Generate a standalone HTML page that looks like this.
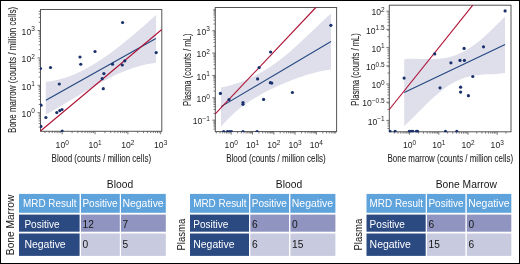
<!DOCTYPE html>
<html><head><meta charset="utf-8"><title>MRD comparison</title>
<style>html,body{margin:0;padding:0;background:#fff;width:520px;height:264px;overflow:hidden;font-family:"Liberation Sans",sans-serif}svg{display:block;will-change:transform}</style>
</head><body>
<svg width="520" height="264" viewBox="0 0 520 264" font-family='"Liberation Sans", sans-serif'><rect width="520" height="264" fill="#fff"/><rect x="40.5" y="9.5" width="121.3" height="121.8" fill="none" stroke="#555" stroke-width="1"/><path d="M62.2 131.3v3M95.03 131.3v3M127.86 131.3v3M160.69 131.3v3M45.03 131.3v1.8M49.14 131.3v1.8M52.32 131.3v1.8M54.92 131.3v1.8M57.11 131.3v1.8M59.02 131.3v1.8M60.7 131.3v1.8M72.08 131.3v1.8M77.86 131.3v1.8M81.97 131.3v1.8M85.15 131.3v1.8M87.75 131.3v1.8M89.94 131.3v1.8M91.85 131.3v1.8M93.53 131.3v1.8M104.91 131.3v1.8M110.69 131.3v1.8M114.8 131.3v1.8M117.98 131.3v1.8M120.58 131.3v1.8M122.77 131.3v1.8M124.68 131.3v1.8M126.36 131.3v1.8M137.74 131.3v1.8M143.52 131.3v1.8M147.63 131.3v1.8M150.81 131.3v1.8M153.41 131.3v1.8M155.6 131.3v1.8M157.51 131.3v1.8M159.19 131.3v1.8M40.5 112.7h-3M40.5 85.3h-3M40.5 57.9h-3M40.5 30.5h-3M40.5 127.03h-1.8M40.5 123.6h-1.8M40.5 120.95h-1.8M40.5 118.78h-1.8M40.5 116.94h-1.8M40.5 115.36h-1.8M40.5 113.95h-1.8M40.5 104.45h-1.8M40.5 99.63h-1.8M40.5 96.2h-1.8M40.5 93.55h-1.8M40.5 91.38h-1.8M40.5 89.54h-1.8M40.5 87.96h-1.8M40.5 86.55h-1.8M40.5 77.05h-1.8M40.5 72.23h-1.8M40.5 68.8h-1.8M40.5 66.15h-1.8M40.5 63.98h-1.8M40.5 62.14h-1.8M40.5 60.56h-1.8M40.5 59.15h-1.8M40.5 49.65h-1.8M40.5 44.83h-1.8M40.5 41.4h-1.8M40.5 38.75h-1.8M40.5 36.58h-1.8M40.5 34.74h-1.8M40.5 33.16h-1.8M40.5 31.75h-1.8M40.5 22.25h-1.8M40.5 17.43h-1.8M40.5 14h-1.8M40.5 11.35h-1.8" stroke="#555" stroke-width="0.8" fill="none"/><clipPath id="c1"><rect x="40" y="9" width="122.3" height="122.8"/></clipPath><g clip-path="url(#c1)"><polygon points="45.8,81.67 50.6,81.16 55.39,80.35 60.19,79.23 64.98,77.83 69.78,76.17 74.57,74.24 79.37,72.07 84.17,69.67 88.96,67.05 93.76,64.22 98.55,61.21 103.35,58.02 108.14,54.66 112.94,51.16 117.73,47.51 122.53,43.74 127.33,39.86 132.12,35.89 136.92,31.82 141.71,27.69 146.51,23.5 151.3,19.27 156.1,15 156.1,62.83 151.3,63.45 146.51,64.33 141.71,65.44 136.92,66.79 132.12,68.34 127.33,70.09 122.53,72.02 117.73,74.11 112.94,76.35 108.14,78.72 103.35,81.21 98.55,83.81 93.76,86.49 88.96,89.24 84.17,92.05 79.37,94.89 74.57,97.77 69.78,100.65 64.98,103.53 60.19,106.38 55.39,109.2 50.6,111.97 45.8,114.67" fill="#dedfeb"/><polyline points="45.9,100.2 155.9,38.6" fill="none" stroke="#24467f" stroke-width="1.1"/><polyline points="40.5,131 161.8,29.5" fill="none" stroke="#ae1235" stroke-width="1.1"/><circle cx="95" cy="51.5" r="1.6" fill="#1b316c"/><circle cx="80" cy="57" r="1.6" fill="#1b316c"/><circle cx="80.75" cy="64.25" r="1.6" fill="#1b316c"/><circle cx="50.5" cy="67.5" r="1.6" fill="#1b316c"/><circle cx="40.5" cy="68.5" r="1.6" fill="#1b316c"/><circle cx="122.6" cy="22.5" r="1.6" fill="#1b316c"/><circle cx="156.2" cy="52.6" r="1.6" fill="#1b316c"/><circle cx="112.5" cy="64.2" r="1.6" fill="#1b316c"/><circle cx="124.8" cy="60.8" r="1.6" fill="#1b316c"/><circle cx="122.3" cy="65" r="1.6" fill="#1b316c"/><circle cx="59.3" cy="84" r="1.6" fill="#1b316c"/><circle cx="41" cy="105.2" r="1.6" fill="#1b316c"/><circle cx="45.9" cy="117.5" r="1.6" fill="#1b316c"/><circle cx="40.9" cy="126.4" r="1.6" fill="#1b316c"/><circle cx="56.8" cy="112.6" r="1.6" fill="#1b316c"/><circle cx="59.8" cy="110.6" r="1.6" fill="#1b316c"/><circle cx="62" cy="109.5" r="1.6" fill="#1b316c"/><circle cx="62.2" cy="131.2" r="1.6" fill="#1b316c"/><circle cx="103.9" cy="73.6" r="1.6" fill="#1b316c"/><circle cx="102.2" cy="78.7" r="1.6" fill="#1b316c"/><circle cx="103.3" cy="88.7" r="1.6" fill="#1b316c"/></g><text x="55.61" y="148.4" font-size="8.6" letter-spacing="0" fill="#1e1e1e">10<tspan font-size="6.5" dy="-3.5" letter-spacing="0">0</tspan></text><text x="88.44" y="148.4" font-size="8.6" letter-spacing="0" fill="#1e1e1e">10<tspan font-size="6.5" dy="-3.5" letter-spacing="0">1</tspan></text><text x="121.27" y="148.4" font-size="8.6" letter-spacing="0" fill="#1e1e1e">10<tspan font-size="6.5" dy="-3.5" letter-spacing="0">2</tspan></text><text x="154.1" y="148.4" font-size="8.6" letter-spacing="0" fill="#1e1e1e">10<tspan font-size="6.5" dy="-3.5" letter-spacing="0">3</tspan></text><text x="21.62" y="116.9" font-size="8.6" letter-spacing="0" fill="#1e1e1e">10<tspan font-size="6.5" dy="-3.5" letter-spacing="0">0</tspan></text><text x="21.62" y="89.5" font-size="8.6" letter-spacing="0" fill="#1e1e1e">10<tspan font-size="6.5" dy="-3.5" letter-spacing="0">1</tspan></text><text x="21.62" y="62.1" font-size="8.6" letter-spacing="0" fill="#1e1e1e">10<tspan font-size="6.5" dy="-3.5" letter-spacing="0">2</tspan></text><text x="21.62" y="34.7" font-size="8.6" letter-spacing="0" fill="#1e1e1e">10<tspan font-size="6.5" dy="-3.5" letter-spacing="0">3</tspan></text><text x="101.35" y="161.6" font-size="10.6" text-anchor="middle" textLength="99.5" lengthAdjust="spacingAndGlyphs" fill="#1e1e1e" stroke="#1e1e1e" stroke-width="0.06">Blood (counts / million cells)</text><text transform="translate(15.6 69.9) rotate(-90)" font-size="10.6" text-anchor="middle" textLength="126" lengthAdjust="spacingAndGlyphs" fill="#1e1e1e" stroke="#1e1e1e" stroke-width="0.06">Bone marrow (counts / million cells)</text><rect x="215.3" y="7.5" width="121.3" height="124.1" fill="none" stroke="#555" stroke-width="1"/><path d="M231.2 131.6v3M252.5 131.6v3M273.8 131.6v3M295.1 131.6v3M316.4 131.6v3M216.31 131.6v1.8M220.06 131.6v1.8M222.72 131.6v1.8M224.79 131.6v1.8M226.47 131.6v1.8M227.9 131.6v1.8M229.14 131.6v1.8M230.23 131.6v1.8M237.61 131.6v1.8M241.36 131.6v1.8M244.02 131.6v1.8M246.09 131.6v1.8M247.77 131.6v1.8M249.2 131.6v1.8M250.44 131.6v1.8M251.53 131.6v1.8M258.91 131.6v1.8M262.66 131.6v1.8M265.32 131.6v1.8M267.39 131.6v1.8M269.07 131.6v1.8M270.5 131.6v1.8M271.74 131.6v1.8M272.83 131.6v1.8M280.21 131.6v1.8M283.96 131.6v1.8M286.62 131.6v1.8M288.69 131.6v1.8M290.37 131.6v1.8M291.8 131.6v1.8M293.04 131.6v1.8M294.13 131.6v1.8M301.51 131.6v1.8M305.26 131.6v1.8M307.92 131.6v1.8M309.99 131.6v1.8M311.67 131.6v1.8M313.1 131.6v1.8M314.34 131.6v1.8M315.43 131.6v1.8M322.81 131.6v1.8M326.56 131.6v1.8M329.22 131.6v1.8M331.29 131.6v1.8M332.97 131.6v1.8M334.4 131.6v1.8M335.64 131.6v1.8M215.3 120.16h-3M215.3 97.8h-3M215.3 75.44h-3M215.3 53.08h-3M215.3 30.72h-3M215.3 129.06h-1.8M215.3 126.89h-1.8M215.3 125.12h-1.8M215.3 123.62h-1.8M215.3 122.33h-1.8M215.3 121.18h-1.8M215.3 113.43h-1.8M215.3 109.49h-1.8M215.3 106.7h-1.8M215.3 104.53h-1.8M215.3 102.76h-1.8M215.3 101.26h-1.8M215.3 99.97h-1.8M215.3 98.82h-1.8M215.3 91.07h-1.8M215.3 87.13h-1.8M215.3 84.34h-1.8M215.3 82.17h-1.8M215.3 80.4h-1.8M215.3 78.9h-1.8M215.3 77.61h-1.8M215.3 76.46h-1.8M215.3 68.71h-1.8M215.3 64.77h-1.8M215.3 61.98h-1.8M215.3 59.81h-1.8M215.3 58.04h-1.8M215.3 56.54h-1.8M215.3 55.25h-1.8M215.3 54.1h-1.8M215.3 46.35h-1.8M215.3 42.41h-1.8M215.3 39.62h-1.8M215.3 37.45h-1.8M215.3 35.68h-1.8M215.3 34.18h-1.8M215.3 32.89h-1.8M215.3 31.74h-1.8M215.3 23.99h-1.8M215.3 20.05h-1.8M215.3 17.26h-1.8M215.3 15.09h-1.8M215.3 13.32h-1.8M215.3 11.82h-1.8M215.3 10.53h-1.8M215.3 9.38h-1.8" stroke="#555" stroke-width="0.8" fill="none"/><clipPath id="c2"><rect x="214.8" y="7" width="122.3" height="125.1"/></clipPath><g clip-path="url(#c2)"><polygon points="221,87.62 225.78,86.48 230.57,85.21 235.35,83.79 240.13,82.18 244.91,80.37 249.7,78.34 254.48,76.08 259.26,73.56 264.04,70.81 268.83,67.8 273.61,64.54 278.39,61.05 283.17,57.33 287.96,53.41 292.74,49.29 297.52,45.01 302.3,40.6 307.09,36.08 311.87,31.5 316.65,26.9 321.43,22.32 326.22,17.81 331,13.44 331,69.62 326.22,70.21 321.43,71.06 316.65,72.14 311.87,73.4 307.09,74.83 302.3,76.39 297.52,78.08 292.74,79.87 287.96,81.76 283.17,83.74 278.39,85.83 273.61,88.02 268.83,90.33 264.04,92.78 259.26,95.39 254.48,98.19 249.7,101.21 244.91,104.5 240.13,108.09 235.35,112.04 230.57,116.4 225.78,121.23 221,126.59" fill="#dedfeb"/><polyline points="221.1,106.6 331,41.5" fill="none" stroke="#24467f" stroke-width="1.1"/><polyline points="215.3,113.9 315.8,7.5" fill="none" stroke="#ae1235" stroke-width="1.1"/><circle cx="220.4" cy="93.4" r="1.6" fill="#1b316c"/><circle cx="229" cy="99.7" r="1.6" fill="#1b316c"/><circle cx="243" cy="102.6" r="1.6" fill="#1b316c"/><circle cx="243" cy="104.3" r="1.6" fill="#1b316c"/><circle cx="257.6" cy="78.9" r="1.6" fill="#1b316c"/><circle cx="259.1" cy="67.6" r="1.6" fill="#1b316c"/><circle cx="263.6" cy="99.4" r="1.6" fill="#1b316c"/><circle cx="270.6" cy="52" r="1.6" fill="#1b316c"/><circle cx="270.3" cy="82.7" r="1.6" fill="#1b316c"/><circle cx="271.8" cy="83.1" r="1.6" fill="#1b316c"/><circle cx="292.4" cy="92.5" r="1.6" fill="#1b316c"/><circle cx="330.9" cy="25.3" r="1.6" fill="#1b316c"/><circle cx="223.7" cy="131.5" r="1.6" fill="#1b316c"/><circle cx="227.5" cy="131.5" r="1.6" fill="#1b316c"/><circle cx="229.5" cy="131.5" r="1.6" fill="#1b316c"/><circle cx="231.5" cy="131.5" r="1.6" fill="#1b316c"/><circle cx="243" cy="131.5" r="1.6" fill="#1b316c"/><circle cx="257" cy="131.5" r="1.6" fill="#1b316c"/></g><text x="224.61" y="148.4" font-size="8.6" letter-spacing="0" fill="#1e1e1e">10<tspan font-size="6.5" dy="-3.5" letter-spacing="0">0</tspan></text><text x="245.91" y="148.4" font-size="8.6" letter-spacing="0" fill="#1e1e1e">10<tspan font-size="6.5" dy="-3.5" letter-spacing="0">1</tspan></text><text x="267.21" y="148.4" font-size="8.6" letter-spacing="0" fill="#1e1e1e">10<tspan font-size="6.5" dy="-3.5" letter-spacing="0">2</tspan></text><text x="288.51" y="148.4" font-size="8.6" letter-spacing="0" fill="#1e1e1e">10<tspan font-size="6.5" dy="-3.5" letter-spacing="0">3</tspan></text><text x="309.81" y="148.4" font-size="8.6" letter-spacing="0" fill="#1e1e1e">10<tspan font-size="6.5" dy="-3.5" letter-spacing="0">4</tspan></text><text x="192.83" y="124.36" font-size="8.6" letter-spacing="0" fill="#1e1e1e">10<tspan font-size="6.5" dy="-3.5" letter-spacing="0">−1</tspan></text><text x="196.62" y="102" font-size="8.6" letter-spacing="0" fill="#1e1e1e">10<tspan font-size="6.5" dy="-3.5" letter-spacing="0">0</tspan></text><text x="196.62" y="79.64" font-size="8.6" letter-spacing="0" fill="#1e1e1e">10<tspan font-size="6.5" dy="-3.5" letter-spacing="0">1</tspan></text><text x="196.62" y="57.28" font-size="8.6" letter-spacing="0" fill="#1e1e1e">10<tspan font-size="6.5" dy="-3.5" letter-spacing="0">2</tspan></text><text x="196.62" y="34.92" font-size="8.6" letter-spacing="0" fill="#1e1e1e">10<tspan font-size="6.5" dy="-3.5" letter-spacing="0">3</tspan></text><text x="275.95" y="161.6" font-size="10.6" text-anchor="middle" textLength="99.5" lengthAdjust="spacingAndGlyphs" fill="#1e1e1e" stroke="#1e1e1e" stroke-width="0.06">Blood (counts / million cells)</text><text transform="translate(190.5 69.7) rotate(-90)" font-size="10.6" text-anchor="middle" textLength="72.6" lengthAdjust="spacingAndGlyphs" fill="#1e1e1e" stroke="#1e1e1e" stroke-width="0.06">Plasma (counts / mL)</text><rect x="389.3" y="5.2" width="121.7" height="126.6" fill="none" stroke="#555" stroke-width="1"/><path d="M409.6 131.8v3M438.8 131.8v3M468 131.8v3M497.2 131.8v3M394.33 131.8v1.8M397.98 131.8v1.8M400.81 131.8v1.8M403.12 131.8v1.8M405.08 131.8v1.8M406.77 131.8v1.8M408.26 131.8v1.8M418.39 131.8v1.8M423.53 131.8v1.8M427.18 131.8v1.8M430.01 131.8v1.8M432.32 131.8v1.8M434.28 131.8v1.8M435.97 131.8v1.8M437.46 131.8v1.8M447.59 131.8v1.8M452.73 131.8v1.8M456.38 131.8v1.8M459.21 131.8v1.8M461.52 131.8v1.8M463.48 131.8v1.8M465.17 131.8v1.8M466.66 131.8v1.8M476.79 131.8v1.8M481.93 131.8v1.8M485.58 131.8v1.8M488.41 131.8v1.8M490.72 131.8v1.8M492.68 131.8v1.8M494.37 131.8v1.8M495.86 131.8v1.8M505.99 131.8v1.8M389.3 120.4h-3M389.3 102.2h-3M389.3 84h-3M389.3 65.8h-3M389.3 47.6h-3M389.3 29.4h-3M389.3 11.2h-3M389.3 128.48h-1.8M389.3 126.04h-1.8M389.3 123.93h-1.8M389.3 122.07h-1.8M389.3 109.44h-1.8M389.3 103.03h-1.8M389.3 98.49h-1.8M389.3 94.96h-1.8M389.3 92.08h-1.8M389.3 89.64h-1.8M389.3 87.53h-1.8M389.3 85.67h-1.8M389.3 73.04h-1.8M389.3 66.63h-1.8M389.3 62.09h-1.8M389.3 58.56h-1.8M389.3 55.68h-1.8M389.3 53.24h-1.8M389.3 51.13h-1.8M389.3 49.27h-1.8M389.3 36.64h-1.8M389.3 30.23h-1.8M389.3 25.69h-1.8M389.3 22.16h-1.8M389.3 19.28h-1.8M389.3 16.84h-1.8M389.3 14.73h-1.8M389.3 12.87h-1.8" stroke="#555" stroke-width="0.8" fill="none"/><clipPath id="c3"><rect x="388.8" y="4.7" width="122.7" height="127.6"/></clipPath><g clip-path="url(#c3)"><polygon points="404.2,59.15 408.58,58.75 412.97,58.64 417.35,58.72 421.73,58.9 426.11,59.07 430.5,59.16 434.88,59.1 439.26,58.83 443.64,58.29 448.03,57.45 452.41,56.27 456.79,54.72 461.17,52.8 465.56,50.5 469.94,47.82 474.32,44.78 478.7,41.4 483.09,37.72 487.47,33.77 491.85,29.62 496.23,25.32 500.62,20.94 505,16.57 505,72.95 500.62,73.56 496.23,73.91 491.85,74.13 487.47,74.31 483.09,74.55 478.7,74.93 474.32,75.53 469.94,76.4 465.56,77.58 461.17,79.12 456.79,81.03 452.41,83.34 448.03,86.03 443.64,89.1 439.26,92.52 434.88,96.27 430.5,100.28 426.11,104.51 421.73,108.89 417.35,113.32 412.97,117.73 408.58,122 404.2,126.02" fill="#dedfeb"/><polyline points="404.2,92.6 505.1,44.4" fill="none" stroke="#24467f" stroke-width="1.1"/><polyline points="389.3,109.5 472.8,5.2" fill="none" stroke="#ae1235" stroke-width="1.1"/><circle cx="505.1" cy="10.9" r="1.6" fill="#1b316c"/><circle cx="464.1" cy="48.4" r="1.6" fill="#1b316c"/><circle cx="483.5" cy="46.8" r="1.6" fill="#1b316c"/><circle cx="460" cy="60.4" r="1.6" fill="#1b316c"/><circle cx="464.4" cy="60.4" r="1.6" fill="#1b316c"/><circle cx="434.7" cy="53.9" r="1.6" fill="#1b316c"/><circle cx="450.9" cy="62.8" r="1.6" fill="#1b316c"/><circle cx="472.8" cy="76.5" r="1.6" fill="#1b316c"/><circle cx="440" cy="87.8" r="1.6" fill="#1b316c"/><circle cx="460.6" cy="87.2" r="1.6" fill="#1b316c"/><circle cx="460.6" cy="92.1" r="1.6" fill="#1b316c"/><circle cx="468.4" cy="95.7" r="1.6" fill="#1b316c"/><circle cx="404.1" cy="78.1" r="1.6" fill="#1b316c"/><circle cx="390" cy="131.4" r="1.6" fill="#1b316c"/><circle cx="395.1" cy="131.4" r="1.6" fill="#1b316c"/><circle cx="409.3" cy="131.4" r="1.6" fill="#1b316c"/><circle cx="411.2" cy="131.4" r="1.6" fill="#1b316c"/><circle cx="412.8" cy="131.4" r="1.6" fill="#1b316c"/><circle cx="416.4" cy="131.4" r="1.6" fill="#1b316c"/><circle cx="417.6" cy="131.4" r="1.6" fill="#1b316c"/><circle cx="445.5" cy="131.4" r="1.6" fill="#1b316c"/><circle cx="456.8" cy="131.4" r="1.6" fill="#1b316c"/></g><text x="403.01" y="148.4" font-size="8.6" letter-spacing="0" fill="#1e1e1e">10<tspan font-size="6.5" dy="-3.5" letter-spacing="0">0</tspan></text><text x="432.21" y="148.4" font-size="8.6" letter-spacing="0" fill="#1e1e1e">10<tspan font-size="6.5" dy="-3.5" letter-spacing="0">1</tspan></text><text x="461.41" y="148.4" font-size="8.6" letter-spacing="0" fill="#1e1e1e">10<tspan font-size="6.5" dy="-3.5" letter-spacing="0">2</tspan></text><text x="490.61" y="148.4" font-size="8.6" letter-spacing="0" fill="#1e1e1e">10<tspan font-size="6.5" dy="-3.5" letter-spacing="0">3</tspan></text><text x="367.63" y="124.6" font-size="8.6" letter-spacing="0" fill="#1e1e1e">10<tspan font-size="6.5" dy="-3.5" letter-spacing="0">−1</tspan></text><text x="362.21" y="106.4" font-size="8.6" letter-spacing="0" fill="#1e1e1e">10<tspan font-size="6.5" dy="-3.5" letter-spacing="0">−0.5</tspan></text><text x="371.42" y="88.2" font-size="8.6" letter-spacing="0" fill="#1e1e1e">10<tspan font-size="6.5" dy="-3.5" letter-spacing="0">0</tspan></text><text x="366" y="70" font-size="8.6" letter-spacing="0" fill="#1e1e1e">10<tspan font-size="6.5" dy="-3.5" letter-spacing="0">0.5</tspan></text><text x="371.42" y="51.8" font-size="8.6" letter-spacing="0" fill="#1e1e1e">10<tspan font-size="6.5" dy="-3.5" letter-spacing="0">1</tspan></text><text x="366" y="33.6" font-size="8.6" letter-spacing="0" fill="#1e1e1e">10<tspan font-size="6.5" dy="-3.5" letter-spacing="0">1.5</tspan></text><text x="371.42" y="15.4" font-size="8.6" letter-spacing="0" fill="#1e1e1e">10<tspan font-size="6.5" dy="-3.5" letter-spacing="0">2</tspan></text><text x="450.3" y="161.6" font-size="10.6" text-anchor="middle" textLength="125.5" lengthAdjust="spacingAndGlyphs" fill="#1e1e1e" stroke="#1e1e1e" stroke-width="0.06">Bone marrow (counts / million cells)</text><text transform="translate(359 69.4) rotate(-90)" font-size="10.6" text-anchor="middle" textLength="72.6" lengthAdjust="spacingAndGlyphs" fill="#1e1e1e" stroke="#1e1e1e" stroke-width="0.06">Plasma (counts / mL)</text><text x="120" y="187.7" font-size="10.3" text-anchor="middle" fill="#161616">Blood</text><text transform="translate(13.5 224.9) rotate(-90)" font-size="10.3" text-anchor="middle" textLength="60.5" lengthAdjust="spacingAndGlyphs" fill="#161616">Bone Marrow</text><rect x="19" y="193.9" width="60.6" height="18.9" fill="#5fa3dc"/><rect x="81" y="193.9" width="38.8" height="18.9" fill="#5fa3dc"/><rect x="121" y="193.9" width="44.8" height="18.9" fill="#5fa3dc"/><rect x="19" y="214.6" width="60.6" height="17.1" fill="#2c4a82"/><rect x="81" y="214.6" width="38.8" height="17.1" fill="#8f95c0"/><rect x="121" y="214.6" width="44.8" height="17.1" fill="#8f95c0"/><rect x="19" y="233.5" width="60.6" height="22.4" fill="#2c4a82"/><rect x="81" y="233.5" width="38.8" height="22.4" fill="#c8cadf"/><rect x="121" y="233.5" width="44.8" height="22.4" fill="#c8cadf"/><text x="23" y="206.8" font-size="10.2" fill="#fff" textLength="53.4" lengthAdjust="spacingAndGlyphs">MRD Result</text><text x="82.4" y="206.8" font-size="10.2" fill="#fff" textLength="35.2" lengthAdjust="spacingAndGlyphs">Positive</text><text x="122.4" y="206.8" font-size="10.2" fill="#fff" textLength="41.3" lengthAdjust="spacingAndGlyphs">Negative</text><text x="24.4" y="227.7" font-size="10.2" fill="#fff" textLength="35.2" lengthAdjust="spacingAndGlyphs">Positive</text><text x="82.6" y="227.7" font-size="10.2" fill="#161616">12</text><text x="122.6" y="227.7" font-size="10.2" fill="#161616">7</text><text x="24.4" y="247.6" font-size="10.2" fill="#fff" textLength="41.3" lengthAdjust="spacingAndGlyphs">Negative</text><text x="82.6" y="247.6" font-size="10.2" fill="#161616">0</text><text x="122.6" y="247.6" font-size="10.2" fill="#161616">5</text><text x="289" y="187.7" font-size="10.3" text-anchor="middle" fill="#161616">Blood</text><text transform="translate(184.6 234.7) rotate(-90)" font-size="10.3" text-anchor="middle" textLength="31.8" lengthAdjust="spacingAndGlyphs" fill="#161616">Plasma</text><rect x="190" y="193.9" width="59" height="18.9" fill="#5fa3dc"/><rect x="250.3" y="193.9" width="38.7" height="18.9" fill="#5fa3dc"/><rect x="290.4" y="193.9" width="45" height="18.9" fill="#5fa3dc"/><rect x="190" y="214.6" width="59" height="17.1" fill="#2c4a82"/><rect x="250.3" y="214.6" width="38.7" height="17.1" fill="#8f95c0"/><rect x="290.4" y="214.6" width="45" height="17.1" fill="#8f95c0"/><rect x="190" y="233.5" width="59" height="22.4" fill="#2c4a82"/><rect x="250.3" y="233.5" width="38.7" height="22.4" fill="#c8cadf"/><rect x="290.4" y="233.5" width="45" height="22.4" fill="#c8cadf"/><text x="193.2" y="206.8" font-size="10.2" fill="#fff" textLength="53.4" lengthAdjust="spacingAndGlyphs">MRD Result</text><text x="251.7" y="206.8" font-size="10.2" fill="#fff" textLength="35.2" lengthAdjust="spacingAndGlyphs">Positive</text><text x="291.8" y="206.8" font-size="10.2" fill="#fff" textLength="41.3" lengthAdjust="spacingAndGlyphs">Negative</text><text x="193.2" y="227.7" font-size="10.2" fill="#fff" textLength="35.2" lengthAdjust="spacingAndGlyphs">Positive</text><text x="251.9" y="227.7" font-size="10.2" fill="#161616">6</text><text x="292" y="227.7" font-size="10.2" fill="#161616">0</text><text x="193.2" y="247.6" font-size="10.2" fill="#fff" textLength="41.3" lengthAdjust="spacingAndGlyphs">Negative</text><text x="251.9" y="247.6" font-size="10.2" fill="#161616">6</text><text x="292" y="247.6" font-size="10.2" fill="#161616">15</text><text x="466.3" y="187.7" font-size="10.3" text-anchor="middle" fill="#161616">Bone Marrow</text><text transform="translate(361.8 234.7) rotate(-90)" font-size="10.3" text-anchor="middle" textLength="31.8" lengthAdjust="spacingAndGlyphs" fill="#161616">Plasma</text><rect x="366.5" y="193.9" width="59.2" height="18.9" fill="#5fa3dc"/><rect x="427" y="193.9" width="38.4" height="18.9" fill="#5fa3dc"/><rect x="466.8" y="193.9" width="44.5" height="18.9" fill="#5fa3dc"/><rect x="366.5" y="214.6" width="59.2" height="17.1" fill="#2c4a82"/><rect x="427" y="214.6" width="38.4" height="17.1" fill="#8f95c0"/><rect x="466.8" y="214.6" width="44.5" height="17.1" fill="#8f95c0"/><rect x="366.5" y="233.5" width="59.2" height="22.4" fill="#2c4a82"/><rect x="427" y="233.5" width="38.4" height="22.4" fill="#c8cadf"/><rect x="466.8" y="233.5" width="44.5" height="22.4" fill="#c8cadf"/><text x="369.6" y="206.8" font-size="10.2" fill="#fff" textLength="53.4" lengthAdjust="spacingAndGlyphs">MRD Result</text><text x="428.4" y="206.8" font-size="10.2" fill="#fff" textLength="35.2" lengthAdjust="spacingAndGlyphs">Positive</text><text x="468.2" y="206.8" font-size="10.2" fill="#fff" textLength="41.3" lengthAdjust="spacingAndGlyphs">Negative</text><text x="369.6" y="227.7" font-size="10.2" fill="#fff" textLength="35.2" lengthAdjust="spacingAndGlyphs">Positive</text><text x="428.6" y="227.7" font-size="10.2" fill="#161616">6</text><text x="468.4" y="227.7" font-size="10.2" fill="#161616">0</text><text x="369.6" y="247.6" font-size="10.2" fill="#fff" textLength="41.3" lengthAdjust="spacingAndGlyphs">Negative</text><text x="428.6" y="247.6" font-size="10.2" fill="#161616">15</text><text x="468.4" y="247.6" font-size="10.2" fill="#161616">6</text><rect x="0.5" y="0.5" width="519" height="263" fill="none" stroke="#000" stroke-width="1"/></svg>
</body></html>
